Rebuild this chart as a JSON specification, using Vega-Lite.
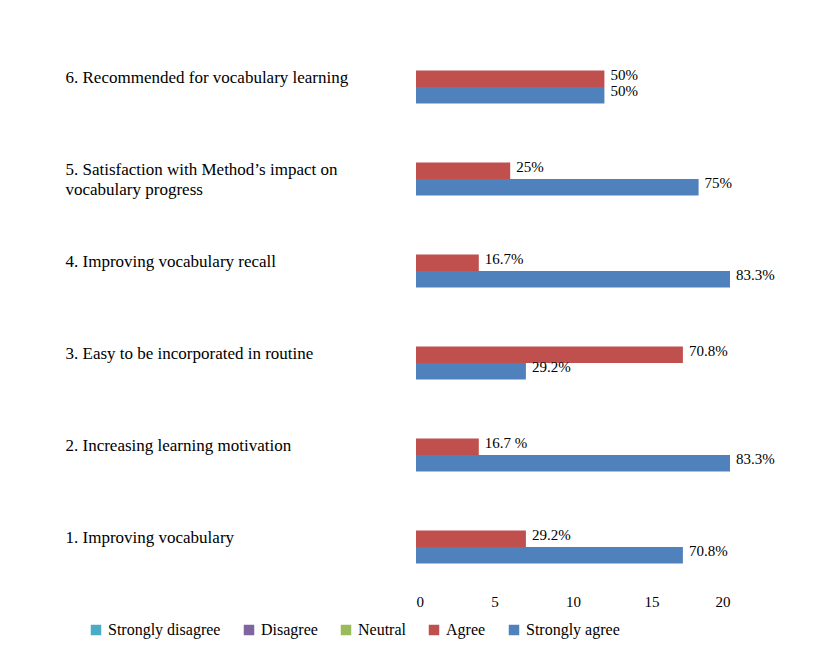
{
  "$schema": "https://vega.github.io/schema/vega-lite/v6.json",
  "width": 314,
  "height": 530,
  "autosize": "none",
  "padding": {"left": 416, "top": 52, "right": 101, "bottom": 76},
  "background": "white",
  "data": {
    "values": [
      {"item": "6. Recommended for vocabulary learning", "response": "Agree", "count": 12, "pct": "50%"},
      {"item": "6. Recommended for vocabulary learning", "response": "Strongly agree", "count": 12, "pct": "50%"},
      {"item": "5. Satisfaction with Method’s impact on|        vocabulary progress", "response": "Agree", "count": 6, "pct": "25%"},
      {"item": "5. Satisfaction with Method’s impact on|        vocabulary progress", "response": "Strongly agree", "count": 18, "pct": "75%"},
      {"item": "4. Improving vocabulary recall", "response": "Agree", "count": 4, "pct": "16.7%"},
      {"item": "4. Improving vocabulary recall", "response": "Strongly agree", "count": 20, "pct": "83.3%"},
      {"item": "3. Easy to be incorporated in routine", "response": "Agree", "count": 17, "pct": "70.8%"},
      {"item": "3. Easy to be incorporated in routine", "response": "Strongly agree", "count": 7, "pct": "29.2%"},
      {"item": "2. Increasing learning motivation", "response": "Agree", "count": 4, "pct": "16.7 %"},
      {"item": "2. Increasing learning motivation", "response": "Strongly agree", "count": 20, "pct": "83.3%"},
      {"item": "1. Improving vocabulary", "response": "Agree", "count": 7, "pct": "29.2%"},
      {"item": "1. Improving vocabulary", "response": "Strongly agree", "count": 17, "pct": "70.8%"}
    ]
  },
  "encoding": {
    "y": {
      "field": "item", "type": "nominal", "sort": null,
      "scale": {"paddingInner": 0.64, "paddingOuter": 0.2},
      "axis": {
        "title": null, "ticks": false, "domain": false, "labelAlign": "left", "labelPadding": 351,
        "labelBaseline": "bottom", "labelFontSize": 17, "labelColor": "black",
        "labelExpr": "split(datum.label, '|')", "labelLimit": 400, "labelLineHeight": 20
      }
    },
    "yOffset": {"field": "response", "sort": ["Agree", "Strongly agree"]},
    "x": {
      "field": "count", "type": "quantitative",
      "scale": {"domain": [0, 20]},
      "axis": {"title": null, "grid": false, "domain": false, "ticks": false, "tickCount": 4,
        "labelFontSize": 15, "labelColor": "black", "labelPadding": 12}
    }
  },
  "layer": [
    {
      "mark": {"type": "bar"},
      "encoding": {
        "color": {
          "field": "response", "type": "nominal",
          "scale": {
            "domain": ["Strongly disagree", "Disagree", "Neutral", "Agree", "Strongly agree"],
            "range": ["#4BACC6", "#8064A2", "#9BBB59", "#C0504D", "#4F81BD"]
          },
          "legend": {
            "orient": "none", "legendX": -328, "legendY": 570, "title": null, "direction": "horizontal",
            "symbolType": "square", "symbolSize": 110, "labelFontSize": 16,
            "labelColor": "black", "columnPadding": 20
          }
        }
      }
    },
    {
      "mark": {"type": "text", "align": "left", "dx": 6, "dy": -4, "fontSize": 15, "color": "black"},
      "encoding": {"text": {"field": "pct"}}
    }
  ],
  "config": {
    "font": "Times New Roman, Liberation Serif",
    "view": {"stroke": null}
  }
}
